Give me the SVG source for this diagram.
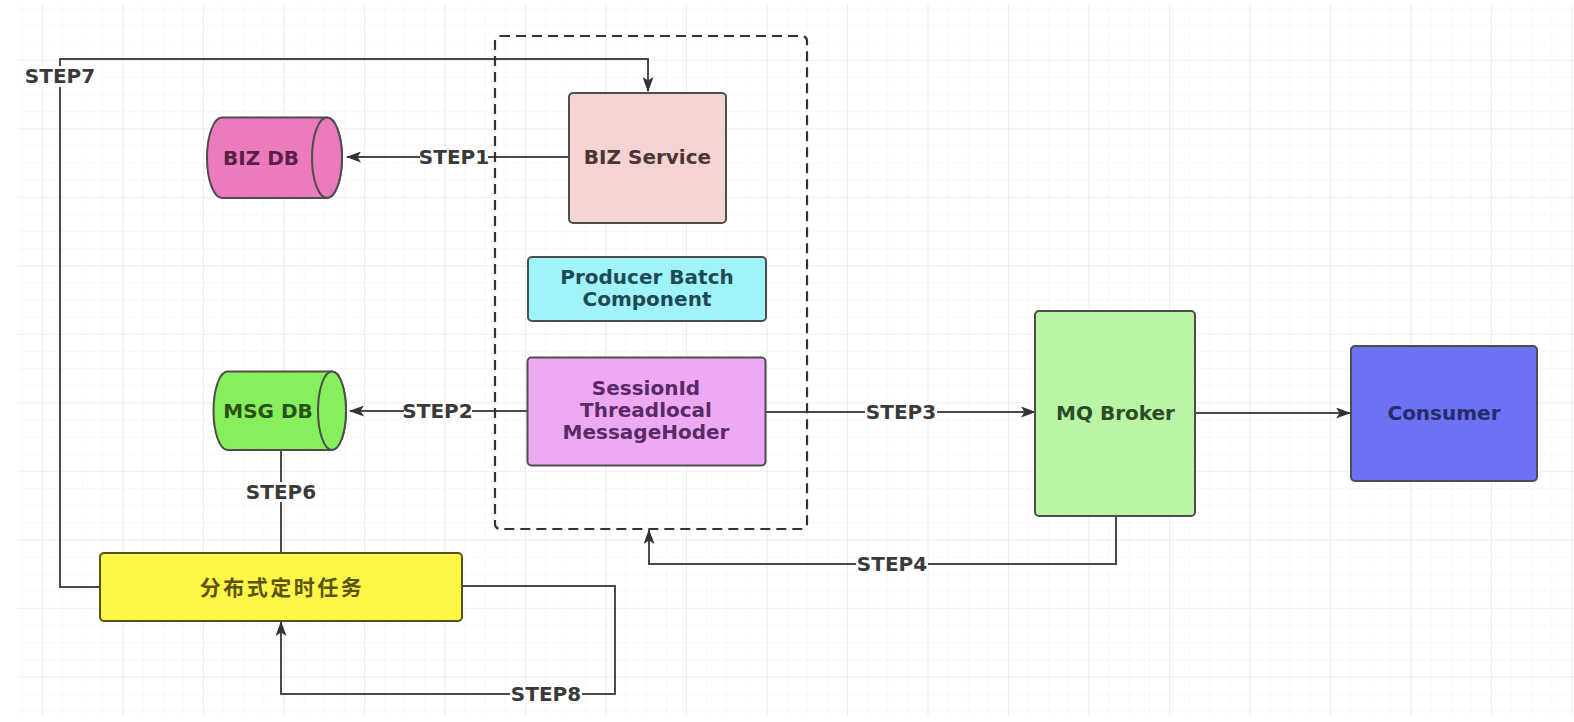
<svg xmlns="http://www.w3.org/2000/svg" width="1574" height="722" viewBox="0 0 1574 722">
<style>
.t{font-family:"DejaVu Sans","Liberation Sans",sans-serif;font-weight:bold;font-size:20px;text-anchor:middle}
.lbl{fill:#3a3a3a}
.ln{fill:none;stroke:#4a4a4a;stroke-width:2}
.box{stroke:#4d4d4d;stroke-width:2}
.lb{fill:#ffffff}
.cjk{font-family:"Noto Sans CJK SC",sans-serif;font-weight:bold;font-size:21px;text-anchor:middle;letter-spacing:2.5px}
</style>
<defs>
<pattern id="minor" x="42" y="-8.7" width="20.125" height="17.125" patternUnits="userSpaceOnUse">
<path d="M0,0 V17.125 M0,0 H20.125" fill="none" stroke="#f2f2f2" stroke-width="1"/>
</pattern>
<pattern id="major" x="42" y="-8.7" width="80.5" height="68.5" patternUnits="userSpaceOnUse">
<path d="M0,0 V68.5 M0,0 H80.5" fill="none" stroke="#e6e6e6" stroke-width="1.2"/>
</pattern>
<marker id="arr" viewBox="0 0 15 11" refX="14" refY="5.5" markerWidth="15" markerHeight="11" markerUnits="userSpaceOnUse" orient="auto">
<path d="M0,0 L15,5.5 L0,11 L3.5,5.5 z" fill="#333333"/>
</marker>
</defs>
<rect width="1574" height="722" fill="#ffffff"/>
<rect x="18" y="4" width="1556" height="712" fill="url(#minor)"/>
<rect x="18" y="4" width="1556" height="712" fill="url(#major)"/>

<g id="connectors">
<path class="ln" d="M100,587 H60 V59 H648 V91" marker-end="url(#arr)"/>
<path class="ln" d="M569,157 H347" marker-end="url(#arr)"/>
<path class="ln" d="M527,411 H350" marker-end="url(#arr)"/>
<path class="ln" d="M766,412 H1035" marker-end="url(#arr)"/>
<path class="ln" d="M1195,413 H1350" marker-end="url(#arr)"/>
<path class="ln" d="M1116,516 V564 H649 V530" marker-end="url(#arr)"/>
<path class="ln" d="M281,450 V552"/>
<path class="ln" d="M462,586 H615 V694 H281 V622" marker-end="url(#arr)"/>
<rect class="lb" x="22" y="66" width="77" height="21"/>
<text class="t lbl" x="60" y="83">STEP7</text>
<rect class="lb" x="420" y="147" width="68" height="20"/>
<text class="t lbl" x="454" y="164">STEP1</text>
<rect class="lb" x="404" y="401" width="68" height="20"/>
<text class="t lbl" x="437.5" y="418">STEP2</text>
<rect class="lb" x="865" y="402" width="72" height="20"/>
<text class="t lbl" x="901" y="419">STEP3</text>
<rect class="lb" x="856" y="554" width="72" height="20"/>
<text class="t lbl" x="892" y="571">STEP4</text>
<rect class="lb" x="245" y="482" width="72" height="20"/>
<text class="t lbl" x="281" y="499">STEP6</text>
<rect class="lb" x="510" y="684" width="72" height="20"/>
<text class="t lbl" x="546" y="701">STEP8</text>
</g>

<g id="container">
<rect x="495" y="36" width="312" height="493" rx="5" fill="none" stroke="#333333" stroke-width="2.2" stroke-dasharray="10,6"/>
</g>

<g id="biz-db">
<path class="box" d="M222,117.5 H327 A15,40.25 0 0 1 327,198 H222 A15,40.25 0 0 1 222,117.5 Z" fill="#ec7bbd"/>
<ellipse class="box" cx="327" cy="157.75" rx="15" ry="40.25" fill="#ec7bbd"/>
<text class="t" x="261" y="165" fill="#5a1f48">BIZ DB</text>
</g>

<g id="biz-service">
<rect class="box" x="569" y="93" width="157" height="130" rx="4" fill="#f4d3d2"/>
<text class="t" x="647.5" y="164" fill="#4a3434">BIZ Service</text>
</g>

<g id="producer-batch">
<rect class="box" x="528" y="257" width="238" height="64" rx="4" fill="#9ff4fa"/>
<text class="t" x="647" y="284" fill="#1f4a54">Producer Batch</text>
<text class="t" x="647" y="306" fill="#1f4a54">Component</text>
</g>

<g id="session">
<rect class="box" x="527.5" y="357.5" width="238" height="108" rx="4" fill="#eea9f5"/>
<text class="t" x="646" y="395" fill="#5a2a66">SessionId</text>
<text class="t" x="646" y="417" fill="#5a2a66">Threadlocal</text>
<text class="t" x="646" y="439" fill="#5a2a66">MessageHoder</text>
</g>

<g id="msg-db">
<path class="box" d="M227.5,371.5 H332 A14,39.25 0 0 1 332,450 H227.5 A14,39.25 0 0 1 227.5,371.5 Z" fill="#85ef5c"/>
<ellipse class="box" cx="332" cy="410.75" rx="14" ry="39.25" fill="#85ef5c"/>
<text class="t" x="268" y="418" fill="#2a5219">MSG DB</text>
</g>

<g id="mq-broker">
<rect class="box" x="1035" y="311" width="160" height="205" rx="4" fill="#b9f5a5"/>
<text class="t" x="1115.5" y="419.5" fill="#2c4c25">MQ Broker</text>
</g>

<g id="consumer">
<rect class="box" x="1351" y="346" width="186" height="135" rx="4" fill="#6e72f2"/>
<text class="t" x="1444" y="420" fill="#252b6c">Consumer</text>
</g>

<g id="scheduler">
<rect x="100" y="553" width="362" height="68" rx="4" fill="#fdf645" stroke="#55521c" stroke-width="2"/>
<text class="cjk" x="282" y="595" fill="#5a5412">分布式定时任务</text>
</g>
</svg>
